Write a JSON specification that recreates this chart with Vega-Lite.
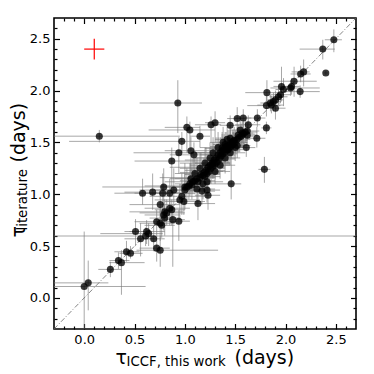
{
"$schema": "https://vega.github.io/schema/vega-lite/v6.json",
"width": 302, "height": 311,
"autosize": {"type": "none"},
"padding": {"left": 54, "top": 18, "right": 18, "bottom": 45},
"config": {
  "view": {"stroke": "black", "strokeWidth": 1.6},
  "font": "DejaVu Sans",
  "axis": {"labelFont": "DejaVu Sans", "labelFontSize": 13, "labelColor": "black", "tickColor": "black", "tickWidth": 1.2, "domain": false, "grid": false, "titleFont": "DejaVu Sans", "titleColor": "black", "titleFontWeight": "normal", "labelOverlap": false, "labelFlush": false}
},
"datasets": {
  "pts": [
    {"x":2.48,"y":2.49,"xl":2.39,"xh":2.56,"yl":2.37,"yh":2.59},
    {"x":2.37,"y":2.40,"xl":2.14,"xh":2.49,"yl":2.30,"yh":2.49},
    {"x":2.40,"y":2.17,"xl":2.38,"xh":2.42,"yl":2.15,"yh":2.19},
    {"x":2.18,"y":2.18,"xl":2.06,"xh":2.24,"yl":2.04,"yh":2.30},
    {"x":2.15,"y":2.16,"xl":2.05,"xh":2.25,"yl":2.08,"yh":2.24},
    {"x":2.085,"y":2.09,"xl":1.88,"xh":2.31,"yl":1.94,"yh":2.23},
    {"x":2.05,"y":2.025,"xl":1.85,"xh":2.34,"yl":1.95,"yh":2.10},
    {"x":2.06,"y":2.04,"xl":1.98,"xh":2.14,"yl":1.96,"yh":2.12},
    {"x":2.145,"y":1.99,"xl":1.98,"xh":2.34,"yl":1.93,"yh":2.05},
    {"x":1.96,"y":2.04,"xl":1.88,"xh":2.05,"yl":1.90,"yh":2.23},
    {"x":1.98,"y":2.01,"xl":1.90,"xh":2.06,"yl":1.85,"yh":2.12},
    {"x":1.95,"y":1.96,"xl":1.85,"xh":2.05,"yl":1.88,"yh":2.04},
    {"x":1.93,"y":1.94,"xl":1.84,"xh":2.02,"yl":1.86,"yh":2.03},
    {"x":1.88,"y":1.895,"xl":1.80,"xh":1.96,"yl":1.80,"yh":1.98},
    {"x":1.86,"y":1.86,"xl":1.72,"xh":1.98,"yl":1.78,"yh":1.95},
    {"x":1.90,"y":1.91,"xl":1.82,"xh":1.98,"yl":1.82,"yh":2.00},
    {"x":1.815,"y":1.98,"xl":1.60,"xh":1.98,"yl":1.88,"yh":2.10},
    {"x":1.81,"y":1.855,"xl":1.62,"xh":1.95,"yl":1.75,"yh":1.95},
    {"x":1.85,"y":1.88,"xl":1.75,"xh":1.95,"yl":1.80,"yh":1.96},
    {"x":1.90,"y":1.83,"xl":1.80,"xh":2.00,"yl":1.72,"yh":1.90},
    {"x":1.81,"y":1.64,"xl":1.76,"xh":1.86,"yl":1.58,"yh":1.70},
    {"x":1.79,"y":1.24,"xl":1.73,"xh":1.85,"yl":1.11,"yh":1.36},
    {"x":1.72,"y":1.735,"xl":1.60,"xh":1.80,"yl":1.65,"yh":1.82},
    {"x":1.63,"y":1.67,"xl":1.50,"xh":1.75,"yl":1.58,"yh":1.76},
    {"x":1.58,"y":1.735,"xl":1.50,"xh":1.66,"yl":1.64,"yh":1.82},
    {"x":1.52,"y":1.73,"xl":1.42,"xh":1.60,"yl":1.62,"yh":1.84},
    {"x":1.62,"y":1.61,"xl":1.50,"xh":1.74,"yl":1.52,"yh":1.70},
    {"x":1.61,"y":1.45,"xl":1.52,"xh":1.70,"yl":1.36,"yh":1.54},
    {"x":1.45,"y":1.665,"xl":1.35,"xh":1.56,"yl":1.55,"yh":1.76},
    {"x":1.46,"y":1.10,"xl":1.35,"xh":1.56,"yl":0.95,"yh":1.45},
    {"x":1.30,"y":1.69,"xl":1.20,"xh":1.40,"yl":1.50,"yh":1.80},
    {"x":1.26,"y":1.67,"xl":1.10,"xh":1.36,"yl":1.50,"yh":1.75},
    {"x":1.15,"y":1.56,"xl":1.05,"xh":1.25,"yl":1.45,"yh":1.66},
    {"x":1.02,"y":1.645,"xl":0.80,"xh":1.15,"yl":1.40,"yh":1.75},
    {"x":1.05,"y":1.62,"xl":0.64,"xh":1.30,"yl":1.45,"yh":1.70},
    {"x":0.97,"y":1.51,"xl":-0.15,"xh":1.15,"yl":1.40,"yh":1.60},
    {"x":0.93,"y":1.88,"xl":0.55,"xh":1.17,"yl":1.59,"yh":2.10},
    {"x":1.06,"y":1.42,"xl":0.80,"xh":1.20,"yl":1.20,"yh":1.55},
    {"x":1.09,"y":1.38,"xl":0.85,"xh":1.25,"yl":1.10,"yh":1.50},
    {"x":0.94,"y":1.40,"xl":0.49,"xh":1.20,"yl":1.20,"yh":1.55},
    {"x":0.87,"y":1.32,"xl":0.50,"xh":1.15,"yl":1.05,"yh":1.45},
    {"x":1.28,"y":1.30,"xl":1.10,"xh":1.45,"yl":1.15,"yh":1.45},
    {"x":0.58,"y":1.01,"xl":0.30,"xh":0.85,"yl":0.90,"yh":1.15},
    {"x":0.68,"y":1.02,"xl":0.40,"xh":0.95,"yl":0.85,"yh":1.20},
    {"x":0.79,"y":1.07,"xl":0.18,"xh":1.00,"yl":0.90,"yh":1.25},
    {"x":0.78,"y":1.01,"xl":0.50,"xh":1.05,"yl":0.80,"yh":1.20},
    {"x":0.85,"y":1.01,"xl":0.60,"xh":1.10,"yl":0.85,"yh":1.15},
    {"x":0.89,"y":1.04,"xl":0.55,"xh":1.15,"yl":0.90,"yh":1.25},
    {"x":1.00,"y":1.07,"xl":0.75,"xh":1.20,"yl":0.85,"yh":1.30},
    {"x":1.17,"y":1.03,"xl":1.00,"xh":1.30,"yl":0.90,"yh":1.15},
    {"x":1.22,"y":1.04,"xl":1.05,"xh":1.35,"yl":0.92,"yh":1.20},
    {"x":1.23,"y":0.99,"xl":1.10,"xh":1.35,"yl":0.85,"yh":1.10},
    {"x":1.13,"y":0.91,"xl":1.00,"xh":1.30,"yl":0.75,"yh":1.05},
    {"x":0.95,"y":0.945,"xl":0.70,"xh":1.15,"yl":0.75,"yh":1.10},
    {"x":0.99,"y":0.93,"xl":0.80,"xh":1.20,"yl":0.80,"yh":1.10},
    {"x":0.97,"y":0.98,"xl":0.65,"xh":1.20,"yl":0.80,"yh":1.20},
    {"x":0.755,"y":0.90,"xl":0.45,"xh":0.95,"yl":0.75,"yh":1.05},
    {"x":0.85,"y":0.865,"xl":0.60,"xh":1.05,"yl":0.70,"yh":1.00},
    {"x":0.87,"y":0.85,"xl":0.70,"xh":1.00,"yl":0.70,"yh":0.95},
    {"x":0.82,"y":0.82,"xl":0.55,"xh":1.00,"yl":0.70,"yh":0.95},
    {"x":0.79,"y":0.80,"xl":0.60,"xh":0.95,"yl":0.65,"yh":0.92},
    {"x":0.80,"y":0.77,"xl":0.65,"xh":0.95,"yl":0.60,"yh":0.90},
    {"x":0.80,"y":0.83,"xl":0.45,"xh":0.98,"yl":0.70,"yh":0.95},
    {"x":0.72,"y":0.735,"xl":0.50,"xh":0.90,"yl":0.60,"yh":0.85},
    {"x":0.755,"y":0.72,"xl":0.55,"xh":0.90,"yl":0.55,"yh":0.85},
    {"x":0.77,"y":0.70,"xl":0.60,"xh":0.90,"yl":0.58,"yh":0.82},
    {"x":0.94,"y":0.74,"xl":0.85,"xh":1.05,"yl":0.55,"yh":0.85},
    {"x":0.88,"y":0.755,"xl":0.70,"xh":1.00,"yl":0.30,"yh":0.90},
    {"x":0.51,"y":0.64,"xl":0.40,"xh":0.62,"yl":0.50,"yh":0.76},
    {"x":0.62,"y":0.64,"xl":0.45,"xh":0.80,"yl":0.52,"yh":0.75},
    {"x":0.64,"y":0.62,"xl":0.16,"xh":0.78,"yl":0.50,"yh":0.72},
    {"x":0.69,"y":0.57,"xl":0.55,"xh":0.80,"yl":0.45,"yh":0.70},
    {"x":0.56,"y":0.57,"xl":0.40,"xh":0.70,"yl":0.40,"yh":0.72},
    {"x":0.61,"y":0.597,"xl":-0.6,"xh":3.0,"yl":0.50,"yh":0.68},
    {"x":0.72,"y":0.48,"xl":0.55,"xh":0.85,"yl":0.35,"yh":0.60},
    {"x":0.755,"y":0.46,"xl":0.52,"xh":1.33,"yl":0.30,"yh":0.60},
    {"x":0.42,"y":0.445,"xl":0.30,"xh":0.55,"yl":0.35,"yh":0.55},
    {"x":0.46,"y":0.43,"xl":0.35,"xh":0.58,"yl":0.38,"yh":0.50},
    {"x":0.34,"y":0.36,"xl":0.25,"xh":0.45,"yl":0.28,"yh":0.44},
    {"x":0.37,"y":0.34,"xl":0.25,"xh":0.60,"yl":0.03,"yh":0.46},
    {"x":0.26,"y":0.275,"xl":0.14,"xh":0.37,"yl":0.20,"yh":0.35},
    {"x":0.0,"y":0.11,"xl":-0.6,"xh":0.61,"yl":-0.5,"yh":0.64},
    {"x":0.04,"y":0.145,"xl":-0.4,"xh":0.24,"yl":-0.12,"yh":0.36},
    {"x":0.15,"y":1.56,"xl":-0.6,"xh":0.95,"yl":1.50,"yh":1.62},
    {"x":1.00,"y":1.04,"xl":0.70,"xh":1.15,"yl":0.90,"yh":1.20},
    {"x":1.02,"y":1.07,"xl":0.85,"xh":1.20,"yl":0.95,"yh":1.25},
    {"x":1.04,"y":1.08,"xl":0.60,"xh":1.15,"yl":0.95,"yh":1.20},
    {"x":1.05,"y":1.10,"xl":0.90,"xh":1.25,"yl":0.98,"yh":1.30},
    {"x":1.07,"y":1.09,"xl":0.95,"xh":1.20,"yl":0.95,"yh":1.25},
    {"x":1.08,"y":1.12,"xl":0.80,"xh":1.25,"yl":1.00,"yh":1.35},
    {"x":1.10,"y":1.13,"xl":0.95,"xh":1.30,"yl":1.00,"yh":1.25},
    {"x":1.12,"y":1.15,"xl":0.90,"xh":1.25,"yl":1.05,"yh":1.35},
    {"x":1.13,"y":1.12,"xl":1.00,"xh":1.25,"yl":1.00,"yh":1.25},
    {"x":1.15,"y":1.16,"xl":0.75,"xh":1.30,"yl":1.02,"yh":1.30},
    {"x":1.16,"y":1.19,"xl":1.00,"xh":1.35,"yl":1.05,"yh":1.40},
    {"x":1.18,"y":1.18,"xl":1.05,"xh":1.30,"yl":1.05,"yh":1.30},
    {"x":1.19,"y":1.21,"xl":0.95,"xh":1.35,"yl":1.10,"yh":1.35},
    {"x":1.20,"y":1.17,"xl":1.05,"xh":1.35,"yl":1.00,"yh":1.30},
    {"x":1.21,"y":1.23,"xl":1.00,"xh":1.40,"yl":1.10,"yh":1.45},
    {"x":1.22,"y":1.20,"xl":1.10,"xh":1.35,"yl":1.05,"yh":1.35},
    {"x":1.23,"y":1.26,"xl":0.85,"xh":1.40,"yl":1.10,"yh":1.40},
    {"x":1.24,"y":1.22,"xl":1.10,"xh":1.38,"yl":1.10,"yh":1.35},
    {"x":1.25,"y":1.28,"xl":1.05,"xh":1.45,"yl":1.15,"yh":1.45},
    {"x":1.26,"y":1.25,"xl":1.15,"xh":1.40,"yl":1.10,"yh":1.40},
    {"x":1.27,"y":1.30,"xl":1.10,"xh":1.45,"yl":1.15,"yh":1.50},
    {"x":1.28,"y":1.27,"xl":1.15,"xh":1.40,"yl":1.15,"yh":1.40},
    {"x":1.29,"y":1.33,"xl":1.00,"xh":1.45,"yl":1.20,"yh":1.50},
    {"x":1.30,"y":1.29,"xl":1.15,"xh":1.45,"yl":1.15,"yh":1.45},
    {"x":1.31,"y":1.35,"xl":1.10,"xh":1.50,"yl":1.20,"yh":1.55},
    {"x":1.32,"y":1.31,"xl":1.20,"xh":1.45,"yl":1.20,"yh":1.45},
    {"x":1.33,"y":1.38,"xl":1.15,"xh":1.50,"yl":1.25,"yh":1.55},
    {"x":1.34,"y":1.34,"xl":1.20,"xh":1.50,"yl":1.20,"yh":1.50},
    {"x":1.35,"y":1.40,"xl":1.10,"xh":1.50,"yl":1.25,"yh":1.55},
    {"x":1.36,"y":1.37,"xl":1.25,"xh":1.50,"yl":1.25,"yh":1.50},
    {"x":1.37,"y":1.42,"xl":1.20,"xh":1.55,"yl":1.30,"yh":1.60},
    {"x":1.38,"y":1.39,"xl":1.25,"xh":1.52,"yl":1.25,"yh":1.52},
    {"x":1.39,"y":1.44,"xl":1.20,"xh":1.55,"yl":1.30,"yh":1.58},
    {"x":1.40,"y":1.41,"xl":1.28,"xh":1.55,"yl":1.30,"yh":1.55},
    {"x":1.41,"y":1.46,"xl":1.25,"xh":1.60,"yl":1.35,"yh":1.60},
    {"x":1.42,"y":1.43,"xl":1.30,"xh":1.55,"yl":1.30,"yh":1.55},
    {"x":1.43,"y":1.47,"xl":1.30,"xh":1.60,"yl":1.35,"yh":1.62},
    {"x":1.44,"y":1.45,"xl":1.30,"xh":1.58,"yl":1.35,"yh":1.58},
    {"x":1.45,"y":1.49,"xl":1.35,"xh":1.60,"yl":1.38,"yh":1.62},
    {"x":1.46,"y":1.46,"xl":1.35,"xh":1.58,"yl":1.35,"yh":1.58},
    {"x":1.47,"y":1.50,"xl":1.35,"xh":1.62,"yl":1.40,"yh":1.62},
    {"x":1.48,"y":1.48,"xl":1.38,"xh":1.60,"yl":1.38,"yh":1.60},
    {"x":1.49,"y":1.52,"xl":1.38,"xh":1.62,"yl":1.42,"yh":1.65},
    {"x":1.50,"y":1.50,"xl":1.40,"xh":1.62,"yl":1.40,"yh":1.62},
    {"x":1.52,"y":1.53,"xl":1.40,"xh":1.65,"yl":1.42,"yh":1.65},
    {"x":1.54,"y":1.55,"xl":1.45,"xh":1.65,"yl":1.45,"yh":1.65},
    {"x":1.56,"y":1.56,"xl":1.45,"xh":1.68,"yl":1.45,"yh":1.68},
    {"x":1.58,"y":1.58,"xl":1.48,"xh":1.70,"yl":1.48,"yh":1.70},
    {"x":1.60,"y":1.60,"xl":1.50,"xh":1.72,"yl":1.50,"yh":1.72},
    {"x":1.62,"y":1.57,"xl":1.52,"xh":1.72,"yl":1.48,"yh":1.68},
    {"x":1.25,"y":1.35,"xl":1.10,"xh":1.40,"yl":1.20,"yh":1.50},
    {"x":1.20,"y":1.30,"xl":0.95,"xh":1.35,"yl":1.15,"yh":1.45},
    {"x":1.30,"y":1.22,"xl":1.15,"xh":1.45,"yl":1.10,"yh":1.35},
    {"x":1.35,"y":1.28,"xl":1.20,"xh":1.50,"yl":1.15,"yh":1.40},
    {"x":1.40,"y":1.35,"xl":1.25,"xh":1.55,"yl":1.20,"yh":1.50},
    {"x":1.28,"y":1.40,"xl":1.10,"xh":1.45,"yl":1.25,"yh":1.55},
    {"x":1.33,"y":1.45,"xl":1.15,"xh":1.50,"yl":1.30,"yh":1.60},
    {"x":1.15,"y":1.25,"xl":0.95,"xh":1.30,"yl":1.10,"yh":1.40},
    {"x":1.12,"y":1.05,"xl":0.95,"xh":1.30,"yl":0.90,"yh":1.20},
    {"x":1.18,"y":1.10,"xl":1.00,"xh":1.35,"yl":0.95,"yh":1.25},
    {"x":1.06,"y":1.15,"xl":0.85,"xh":1.20,"yl":1.00,"yh":1.30},
    {"x":1.38,"y":1.50,"xl":1.25,"xh":1.50,"yl":1.35,"yh":1.65},
    {"x":1.45,"y":1.40,"xl":1.30,"xh":1.60,"yl":1.28,"yh":1.52},
    {"x":1.50,"y":1.45,"xl":1.38,"xh":1.62,"yl":1.32,"yh":1.58},
    {"x":1.10,"y":1.20,"xl":0.90,"xh":1.25,"yl":1.05,"yh":1.35},
    {"x":1.22,"y":1.12,"xl":1.08,"xh":1.38,"yl":1.00,"yh":1.25},
    {"x":1.42,"y":1.53,"xl":1.30,"xh":1.55,"yl":1.42,"yh":1.65},
    {"x":1.45,"y":1.54,"xl":1.35,"xh":1.58,"yl":1.42,"yh":1.66},
    {"x":1.48,"y":1.51,"xl":1.38,"xh":1.60,"yl":1.40,"yh":1.62},
    {"x":1.40,"y":1.48,"xl":1.28,"xh":1.52,"yl":1.36,"yh":1.60},
    {"x":1.37,"y":1.445,"xl":1.25,"xh":1.50,"yl":1.32,"yh":1.58},
    {"x":1.43,"y":1.43,"xl":1.30,"xh":1.58,"yl":1.30,"yh":1.55},
    {"x":1.53,"y":1.57,"xl":1.42,"xh":1.65,"yl":1.47,"yh":1.67},
    {"x":1.57,"y":1.59,"xl":1.47,"xh":1.68,"yl":1.50,"yh":1.70},
    {"x":1.715,"y":1.54,"xl":1.60,"xh":1.80,"yl":1.45,"yh":1.65},
    {"x":1.55,"y":1.62,"xl":1.45,"xh":1.65,"yl":1.52,"yh":1.72},
    {"x":1.52,"y":1.47,"xl":1.40,"xh":1.65,"yl":1.35,"yh":1.58}
  ],
  "diag": [{"x": -0.3, "y": -0.3}, {"x": 2.7, "y": 2.7}],
  "ref": [{"x": 0.1, "y": 2.4, "xl": 0.0, "xh": 0.2, "yl": 2.3, "yh": 2.5}]
},
"resolve": {"axis": {"x": "independent", "y": "independent"}},
"layer": [
  {
    "data": {"name": "pts"},
    "mark": {"type": "rule", "color": "#7a7a7a", "opacity": 0.65, "strokeWidth": 1, "clip": true},
    "encoding": {
      "x": {"field": "xl", "type": "quantitative", "scale": {"domain": [-0.3, 2.7], "nice": false, "zero": false},
        "axis": {"orient": "bottom", "values": [0, 0.5, 1, 1.5, 2, 2.5], "format": ".1f", "tickSize": -5.5, "labelPadding": 9.5,
          "title": "(days)", "titleFontSize": 19, "titleX": 180, "titleY": 34, "titleAlign": "left", "titleBaseline": "alphabetic", "titleAngle": 0}},
      "x2": {"field": "xh"},
      "y": {"field": "y", "type": "quantitative", "scale": {"domain": [-0.3, 2.7], "nice": false, "zero": false},
        "axis": {"orient": "left", "values": [0, 0.5, 1, 1.5, 2, 2.5], "format": ".1f", "tickSize": -5.5, "labelPadding": 9.5,
          "title": "(days)", "titleFontSize": 19, "titleX": -29.5, "titleY": 144, "titleAlign": "left", "titleBaseline": "alphabetic", "titleAngle": -90}}
    }
  },
  {
    "data": {"name": "pts"},
    "mark": {"type": "rule", "color": "#7a7a7a", "opacity": 0.65, "strokeWidth": 1, "clip": true},
    "encoding": {
      "x": {"field": "x", "type": "quantitative", "scale": {"domain": [-0.3, 2.7], "nice": false, "zero": false},
        "axis": {"orient": "bottom", "values": [-0.2,-0.1,0.1,0.2,0.3,0.4,0.6,0.7,0.8,0.9,1.1,1.2,1.3,1.4,1.6,1.7,1.8,1.9,2.1,2.2,2.3,2.4,2.6], "labels": false, "tickSize": -3,
          "title": "τ", "titleFontSize": 19, "titleX": 61, "titleY": 34, "titleAlign": "left", "titleBaseline": "alphabetic", "titleAngle": 0}},
      "y": {"field": "yl", "type": "quantitative", "scale": {"domain": [-0.3, 2.7], "nice": false, "zero": false},
        "axis": {"orient": "left", "values": [-0.2,-0.1,0.1,0.2,0.3,0.4,0.6,0.7,0.8,0.9,1.1,1.2,1.3,1.4,1.6,1.7,1.8,1.9,2.1,2.2,2.3,2.4,2.6], "labels": false, "tickSize": -3,
          "title": "τ", "titleFontSize": 19, "titleX": -29.5, "titleY": 219, "titleAlign": "left", "titleBaseline": "alphabetic", "titleAngle": -90}},
      "y2": {"field": "yh"}
    }
  },
  {
    "data": {"name": "diag"},
    "mark": {"type": "line", "color": "#666666", "strokeWidth": 0.8, "strokeDash": [5, 2, 1, 2], "clip": true},
    "encoding": {
      "x": {"field": "x", "type": "quantitative", "scale": {"domain": [-0.3, 2.7], "nice": false, "zero": false},
        "axis": {"orient": "top", "values": [0, 0.5, 1, 1.5, 2, 2.5], "labels": false, "tickSize": -5.5,
          "title": "ICCF, this work", "titleFontSize": 13.3, "titleX": 72, "titleY": 347.5, "titleAlign": "left", "titleBaseline": "alphabetic", "titleAngle": 0}},
      "y": {"field": "y", "type": "quantitative", "scale": {"domain": [-0.3, 2.7], "nice": false, "zero": false},
        "axis": {"orient": "right", "values": [0, 0.5, 1, 1.5, 2, 2.5], "labels": false, "tickSize": -5.5,
          "title": "literature", "titleFontSize": 13.3, "titleX": -329.5, "titleY": 212, "titleAlign": "left", "titleBaseline": "alphabetic", "titleAngle": -90}}
    }
  },
  {
    "data": {"name": "pts"},
    "mark": {"type": "circle", "color": "black", "opacity": 0.78, "size": 50},
    "encoding": {
      "x": {"field": "x", "type": "quantitative", "scale": {"domain": [-0.3, 2.7], "nice": false, "zero": false},
        "axis": {"orient": "top", "values": [-0.2,-0.1,0.1,0.2,0.3,0.4,0.6,0.7,0.8,0.9,1.1,1.2,1.3,1.4,1.6,1.7,1.8,1.9,2.1,2.2,2.3,2.4,2.6], "labels": false, "tickSize": -3, "title": null}},
      "y": {"field": "y", "type": "quantitative", "scale": {"domain": [-0.3, 2.7], "nice": false, "zero": false},
        "axis": {"orient": "right", "values": [-0.2,-0.1,0.1,0.2,0.3,0.4,0.6,0.7,0.8,0.9,1.1,1.2,1.3,1.4,1.6,1.7,1.8,1.9,2.1,2.2,2.3,2.4,2.6], "labels": false, "tickSize": -3, "title": null}}
    }
  },
  {
    "data": {"name": "ref"},
    "mark": {"type": "rule", "color": "red", "strokeWidth": 1.2},
    "encoding": {
      "x": {"field": "xl", "type": "quantitative", "axis": null},
      "x2": {"field": "xh"},
      "y": {"field": "y", "type": "quantitative", "axis": null}
    }
  },
  {
    "data": {"name": "ref"},
    "mark": {"type": "rule", "color": "red", "strokeWidth": 1.2},
    "encoding": {
      "x": {"field": "x", "type": "quantitative", "axis": null},
      "y": {"field": "yl", "type": "quantitative", "axis": null},
      "y2": {"field": "yh"}
    }
  }
]
}
